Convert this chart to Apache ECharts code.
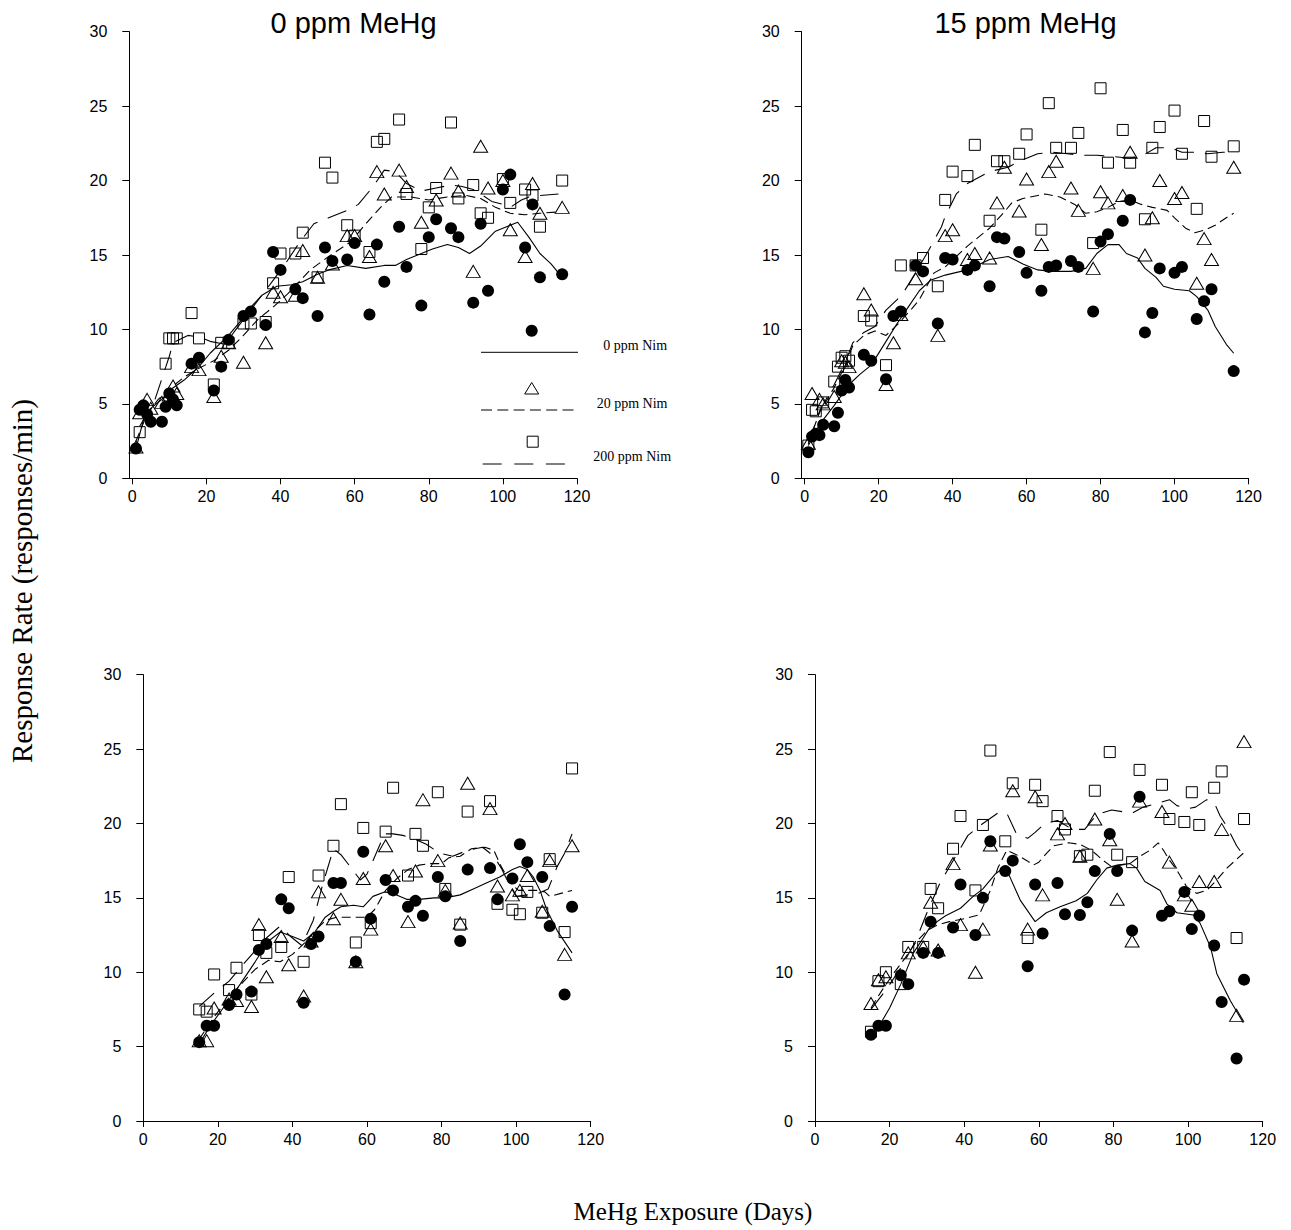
<!DOCTYPE html>
<html>
<head>
<meta charset="utf-8">
<script src="https://cdn.jsdelivr.net/npm/echarts@6/dist/echarts.min.js"></script>
<style>
  html, body { margin: 0; padding: 0; background: #fff; }
  #chart { width: 1291px; height: 1230px; }
</style>
</head>
<body>
<div id="chart"></div>
<script>
// Axis ticks shared by all four panels
const xTickValues = [0, 20, 40, 60, 80, 100, 120];
const panelTitles = ['0 ppm MeHg', '15 ppm MeHg'];
const legendLabels = ['0 ppm Nim', '20 ppm Nim', '200 ppm Nim'];

// ---- Panel 1 (top left) : [day, responses/min]
const p1Circles = [[1,2.0],[2,4.6],[3,4.9],[4,4.3],[5,3.8],[8,3.8],[9,4.8],[10,5.7],[11,5.3],[12,4.9],[16,7.7],[18,8.1],[22,5.9],[24,7.5],[26,9.3],[30,10.9],[32,11.2],[36,10.3],[38,15.2],[40,14.0],[44,12.7],[46,12.1],[50,10.9],[52,15.5],[54,14.6],[58,14.7],[60,15.8],[64,11.0],[66,15.7],[68,13.2],[72,16.9],[74,14.2],[78,11.6],[80,16.2],[82,17.4],[86,16.8],[88,16.2],[92,11.8],[94,17.1],[96,12.6],[100,19.4],[102,20.4],[106,15.5],[108,18.4],[110,13.5],[116,13.7]];
const p1Triangles = [[1,2.1],[2,4.4],[4,5.3],[5,4.7],[8,5.1],[10,5.6],[11,6.2],[12,5.7],[16,7.5],[18,7.3],[22,5.5],[24,8.2],[26,9.1],[30,7.8],[36,9.1],[38,12.5],[40,12.2],[44,12.3],[46,15.3],[50,13.5],[54,14.4],[58,16.3],[60,16.3],[64,14.9],[66,20.6],[68,19.1],[72,20.7],[74,19.6],[78,17.2],[82,18.7],[86,20.5],[88,19.3],[92,13.9],[94,22.3],[96,19.5],[100,20.0],[102,16.7],[106,14.9],[108,19.8],[110,17.8],[116,18.2]];
const p1Squares = [[2,3.1],[9,7.7],[10,9.4],[11,9.4],[12,9.4],[16,11.1],[18,9.4],[22,6.3],[24,9.1],[26,9.1],[30,10.4],[32,10.4],[36,10.5],[38,13.1],[40,15.1],[44,15.1],[46,16.5],[50,13.5],[52,21.2],[54,20.2],[58,17.0],[60,16.3],[64,15.2],[66,22.6],[68,22.8],[72,24.1],[74,19.1],[78,15.4],[80,18.2],[82,19.5],[86,23.9],[88,18.8],[92,19.7],[94,17.8],[96,17.5],[100,20.1],[102,18.5],[106,19.4],[108,19.0],[110,16.9],[116,20.0]];
const p1Line0 = [[1,2.0],[3,3.9],[5,4.7],[8,5.3],[10,5.9],[14,6.6],[18,7.5],[21,8.4],[26,9.6],[30,10.8],[32,11.5],[35,12.3],[39,12.9],[43,13.0],[46,13.2],[50,13.7],[53,14.0],[58,14.3],[63,14.1],[68,14.3],[71,14.3],[74,14.7],[78,15.1],[81,15.4],[85,15.7],[88,15.5],[91,15.1],[94,15.6],[98,16.6],[101,16.9],[104,17.2],[107,16.2],[110,15.1],[113,14.4],[115,13.8]];
const p1Line20 = [[1,2.5],[4,4.3],[7,5.3],[10,6.0],[14,6.8],[18,7.4],[22,7.9],[26,8.6],[30,9.6],[34,10.7],[38,11.5],[42,12.4],[45,13.2],[48,14.0],[53,14.9],[59,15.9],[63,17.1],[67,18.2],[70,18.9],[75,18.9],[80,18.7],[85,18.9],[90,19.0],[94,18.8],[98,18.2],[102,17.8],[106,17.7],[110,17.8],[115,17.9]];
const p1Line200 = [[2,3.5],[6,5.2],[8,6.7],[10,8.2],[11,9.1],[15,9.6],[18,9.5],[21,9.2],[25,9.0],[28,10.0],[31,11.0],[35,12.3],[38,13.3],[41,14.3],[45,15.8],[49,17.1],[53,17.5],[58,18.0],[61,18.4],[65,19.6],[68,20.7],[71,20.6],[74,19.8],[78,19.3],[82,19.5],[86,19.7],[89,19.6],[92,19.4],[94,19.1],[97,18.6],[100,18.4],[102,18.2],[105,18.7],[107,18.9],[110,19.0],[115,19.1]];

// ---- Panel 2 (top right)
const p2Circles = [[1,1.75],[2,2.8],[3,3.0],[4,2.9],[5,3.6],[8,3.5],[9,4.4],[10,5.9],[11,6.6],[12,6.1],[16,8.3],[18,7.9],[22,6.65],[24,10.9],[26,11.2],[30,14.3],[32,13.9],[36,10.4],[38,14.8],[40,14.7],[44,14.0],[46,14.3],[50,12.9],[52,16.2],[54,16.1],[58,15.2],[60,13.8],[64,12.6],[66,14.2],[68,14.3],[72,14.6],[74,14.2],[78,11.2],[80,15.9],[82,16.4],[86,17.3],[88,18.7],[92,9.8],[94,11.1],[96,14.1],[100,13.8],[102,14.2],[106,10.7],[108,11.9],[110,12.7],[116,7.2]];
const p2Triangles = [[1,2.35],[2,5.7],[4,5.3],[5,5.0],[8,5.5],[10,7.9],[11,7.8],[12,7.5],[16,12.4],[18,11.3],[22,6.3],[24,9.1],[26,11.0],[30,13.4],[36,9.6],[38,16.3],[40,16.7],[44,14.7],[46,15.1],[50,14.8],[52,18.5],[54,20.9],[58,17.95],[60,20.1],[64,15.7],[66,20.6],[68,21.3],[72,19.5],[74,18.0],[78,14.1],[80,19.25],[82,18.5],[86,19.0],[88,21.9],[92,15.0],[94,17.5],[96,20.0],[100,18.8],[102,19.2],[106,13.1],[108,16.1],[110,14.7],[116,20.9]];
const p2Squares = [[1,2.2],[2,4.6],[3,4.5],[5,5.1],[8,6.5],[9,7.5],[10,8.1],[11,8.2],[12,7.9],[16,10.9],[18,10.6],[22,7.6],[26,14.3],[30,14.3],[32,14.8],[36,12.9],[38,18.7],[40,20.6],[44,20.3],[46,22.4],[50,17.3],[52,21.3],[54,21.3],[58,21.8],[60,23.1],[64,16.7],[66,25.2],[68,22.2],[72,22.2],[74,23.2],[78,15.8],[80,26.2],[82,21.2],[86,23.4],[88,21.2],[92,17.4],[94,22.2],[96,23.6],[100,24.7],[102,21.8],[106,18.1],[108,24.0],[110,21.6],[116,22.3]];
const p2Line0 = [[1,2.2],[4,3.6],[8,4.9],[12,6.3],[15,7.0],[18,7.6],[22,9.2],[25,10.4],[28,11.5],[31,12.6],[34,13.3],[38,13.65],[44,14.0],[50,14.7],[55,14.9],[59,14.4],[63,14.0],[67,13.9],[72,13.9],[76,14.1],[79,15.1],[82,15.7],[85,15.7],[87,15.1],[90,14.8],[92,14.1],[95,13.5],[97,12.9],[100,12.7],[104,12.6],[106,12.2],[109,11.3],[111,10.2],[114,9.0],[116,8.4]];
const p2Line20 = [[1,2.4],[4,4.4],[8,6.1],[11,7.6],[13,8.9],[16,9.6],[19,9.9],[22,9.6],[25,10.3],[29,11.4],[31,12.0],[35,13.8],[38,14.2],[44,15.6],[47,16.2],[50,16.8],[54,17.9],[56,18.5],[59,18.8],[61,18.9],[65,19.1],[69,18.9],[73,18.4],[76,17.8],[79,17.9],[82,18.2],[85,18.6],[88,18.7],[91,18.4],[94,18.2],[98,18.0],[100,17.5],[103,16.8],[105.5,16.5],[108.5,16.7],[111,17.0],[114,17.5],[116,17.8]];
const p2Line200 = [[1,2.3],[4,4.5],[8,6.3],[11,7.8],[13,9.1],[16,9.8],[19,10.2],[22,11.3],[25,12.0],[27,12.6],[30,13.8],[33.5,15.3],[37,16.9],[38,17.6],[41,19.1],[44,19.8],[50,20.6],[55,20.9],[58,21.3],[61,21.6],[63,21.8],[67,21.9],[71,21.8],[75,21.7],[79,21.7],[84,21.6],[88,21.5],[91.5,21.7],[95,22.2],[99,22.2],[102,21.9],[106,21.9],[109,21.8],[113,21.9],[116,21.9]];

// ---- Panel 3 (bottom left)
const p3Circles = [[15,5.3],[17,6.4],[19,6.4],[23,7.8],[25,8.5],[29,8.7],[31,11.5],[33,11.9],[37,14.9],[39,14.3],[43,7.95],[45,11.9],[47,12.4],[51,16.0],[53,16.0],[57,10.7],[59,18.1],[61,13.6],[65,16.2],[67,15.5],[71,14.4],[73,14.8],[75,13.8],[79,16.4],[81,15.1],[85,12.1],[87,16.9],[93,17.0],[95,14.9],[99,16.3],[101,18.6],[103,17.4],[107,16.4],[109,13.1],[113,8.5],[115,14.4]];
const p3Triangles = [[15,5.4],[17,5.4],[19,7.6],[23,8.2],[25,8.1],[29,7.7],[31,13.2],[33,9.7],[37,12.4],[39,10.5],[43,8.4],[45,12.1],[47,15.4],[51,13.6],[53,14.9],[57,10.7],[59,16.3],[61,12.9],[65,18.5],[67,16.5],[71,13.4],[73,16.8],[75,21.6],[79,17.5],[81,15.5],[85,13.3],[87,22.7],[93,21.0],[95,15.8],[99,15.2],[101,15.5],[103,16.5],[107,14.1],[109,17.5],[113,11.2],[115,18.5]];
const p3Squares = [[15,7.5],[17,7.35],[19,9.85],[23,8.8],[25,10.3],[29,8.5],[31,12.5],[33,11.3],[37,11.7],[39,16.4],[43,10.7],[47,16.5],[51,18.5],[53,21.3],[57,12.0],[59,19.7],[61,13.3],[65,19.45],[67,22.4],[71,16.5],[73,19.3],[75,18.5],[79,22.1],[81,15.6],[85,13.2],[87,20.8],[93,21.5],[95,14.6],[99,14.2],[101,13.9],[103,15.4],[107,14.0],[109,17.6],[113,12.7],[115,23.7]];
const p3Line0 = [[15,5.2],[18,6.4],[22,7.8],[26,9.2],[30,10.7],[33.6,12.1],[36.7,12.7],[40,12.4],[43,12.1],[46,12.7],[48.8,13.7],[51,14.1],[53,14.4],[56.4,14.5],[59,14.4],[61.6,15.1],[64.7,15.4],[67,15.3],[70.6,14.9],[74,14.9],[78,15.0],[81,15.0],[85,15.2],[88.5,15.6],[92,16.0],[95.6,16.4],[99,16.9],[101,17.1],[103,16.9],[104.6,16.4],[106.4,15.5],[108.2,14.2],[111,12.8],[115,11.3]];
const p3Line20 = [[15,5.5],[19,7.0],[23,8.3],[27,9.4],[30,10.2],[33.6,10.8],[36.7,10.7],[40,11.2],[43,11.9],[46,12.8],[49,13.5],[52,13.7],[56,13.7],[60,13.7],[62,14.2],[65,15.5],[68,16.3],[71,16.9],[74,17.2],[77,17.3],[80,17.3],[82,17.7],[85,17.8],[88,18.3],[91.6,18.4],[94,18.2],[96,17.1],[98.5,16.0],[100.6,15.5],[103,15.5],[105.5,15.5],[107.7,15.4],[109,15.1],[112,15.3],[115,15.5]];
const p3Line200 = [[15,7.7],[19,8.6],[23,9.4],[26,10.3],[29.5,11.3],[33,12.3],[36.7,13.1],[39.5,12.4],[42.5,11.8],[45.6,13.5],[48,15.8],[51,18.3],[53,17.9],[55.5,17.1],[58.2,16.2],[60,16.6],[61.6,17.5],[64.7,19.3],[67,19.3],[69.6,19.2],[72.4,19.0],[75.9,18.6],[79.5,18.0],[83,17.8],[87,18.2],[91,18.4],[94,17.8],[96,17.0],[98,16.0],[100,15.1],[103,15.2],[106,15.3],[108.6,15.6],[111,17.1],[113,18.0],[115,19.3]];

// ---- Panel 4 (bottom right)
const p4Circles = [[15,5.8],[17,6.4],[19,6.4],[23,9.8],[25,9.2],[29,11.3],[31,13.4],[33,11.3],[37,13.0],[39,15.9],[43,12.5],[45,15.0],[47,18.8],[51,16.8],[53,17.5],[57,10.4],[59,15.9],[61,12.6],[65,16.0],[67,13.9],[71,13.85],[73,14.7],[75,16.8],[79,19.3],[81,16.8],[85,12.8],[87,21.8],[93,13.8],[95,14.1],[99,15.4],[101,12.9],[103,13.8],[107,11.8],[109,8.0],[113,4.2],[115,9.5]];
const p4Triangles = [[15,7.9],[17,9.5],[19,9.7],[25,11.3],[29,11.7],[31,14.7],[33,11.5],[37,17.3],[39,13.2],[43,10.0],[45,12.9],[47,18.55],[53,22.2],[57,12.9],[59,21.8],[61,15.2],[65,19.3],[67,20.0],[71,17.8],[75,20.3],[79,18.9],[81,14.9],[85,12.1],[87,21.5],[93,20.8],[95,17.4],[99,15.2],[101,14.5],[103,16.1],[107,16.1],[109,19.6],[113,7.1],[115,25.5]];
const p4Squares = [[15,6.0],[17,9.4],[19,10.0],[23,9.2],[25,11.7],[29,11.7],[31,15.6],[33,14.3],[37,18.3],[39,20.5],[43,15.5],[45,19.9],[47,24.9],[51,18.8],[53,22.7],[57,12.3],[59,22.6],[61,21.5],[65,20.5],[67,19.6],[71,17.8],[73,17.9],[75,22.2],[79,24.8],[81,17.9],[85,17.4],[87,23.6],[93,22.6],[95,20.3],[99,20.1],[101,22.1],[103,19.9],[107,22.4],[109,23.5],[113,12.3],[115,20.3]];
const p4Line0 = [[15,5.8],[17,6.3],[20,7.6],[23,9.2],[26.4,11.3],[29,12.3],[31,13.1],[35,13.8],[39,14.3],[42.4,15.1],[45,15.6],[48.3,16.6],[51,17.1],[55,14.85],[59,13.4],[62,14.0],[65.7,14.4],[70,14.8],[73,15.3],[75.5,16.2],[78.2,17.0],[81,17.2],[84.4,17.3],[86.2,17.0],[88.4,16.1],[92.5,15.5],[94.3,14.6],[97,14.0],[101.4,13.85],[103.2,13.3],[106,11.7],[107.7,9.9],[111.3,8.1],[114.8,6.6]];
const p4Line20 = [[15,7.6],[18,8.8],[21,9.9],[24,10.9],[27,12.0],[30,12.8],[33,13.2],[36,13.4],[40,13.6],[44,13.85],[47,15.5],[49,17.0],[51.4,18.2],[54,17.9],[56.8,17.5],[58.5,17.2],[60,17.4],[62.1,18.0],[64,18.5],[68,18.7],[71,18.6],[74.1,18.2],[75.5,17.9],[77.3,17.5],[79.5,17.1],[81.7,17.2],[84.4,17.3],[87.1,17.8],[89.8,18.2],[92,18.7],[93.4,18.2],[95.1,17.5],[96.9,16.9],[99.6,15.75],[102.3,15.3],[105,15.5],[107.7,16.2],[110.4,17.0],[114.8,18.0]];
const p4Line200 = [[15,7.5],[19,8.8],[23,10.3],[27,12.1],[30,14.0],[33.5,16.0],[37,17.5],[41,19.2],[45,20.0],[49,20.7],[51.4,20.7],[54,19.3],[57,19.0],[59,19.4],[61.6,20.0],[65,20.2],[69,19.6],[72.3,19.6],[75.5,20.6],[79.5,20.9],[85,20.7],[88,21.1],[91,21.3],[95,21.6],[97,21.2],[100,21.0],[102,21.1],[105,21.6],[107,21.4],[108.6,20.5],[110.4,19.8],[113,18.5],[115,17.8]];

const panels = [
  { circles: p1Circles, triangles: p1Triangles, squares: p1Squares, line0: p1Line0, line20: p1Line20, line200: p1Line200 },
  { circles: p2Circles, triangles: p2Triangles, squares: p2Squares, line0: p2Line0, line20: p2Line20, line200: p2Line200 },
  { circles: p3Circles, triangles: p3Triangles, squares: p3Squares, line0: p3Line0, line20: p3Line20, line200: p3Line200 },
  { circles: p4Circles, triangles: p4Triangles, squares: p4Squares, line0: p4Line0, line20: p4Line20, line200: p4Line200 }
];

// plot boxes (pixels) for the 2x2 layout
const grids = [
  { left: 129.3, top: 31.7, width: 447.7, height: 446.6 },
  { left: 801.7, top: 31.7, width: 446.8, height: 446.6 },
  { left: 143.3, top: 674.7, width: 447.4, height: 446.3 },
  { left: 815, top: 674.7, width: 447.7, height: 446.3 }
];

const SANS = '"Liberation Sans", Arial, Helvetica, sans-serif';
const SERIF = '"Liberation Serif", "Times New Roman", Times, serif';
const SHORT_DASH = [9, 5];
const LONG_DASH = [20, 11];

const xAxes = grids.map((g, i) => {
  const top = i < 2;
  const ax = {
    gridIndex: i, type: 'value', max: 120,
    axisLine: { onZero: false, lineStyle: { color: '#000', width: 1 } },
    axisTick: { length: 6, lineStyle: { color: '#000', width: 1 } },
    axisLabel: { color: '#000', fontSize: 16, fontFamily: SANS, margin: 10 },
    splitLine: { show: false }
  };
  if (top) {
    ax.min = -0.8;
    ax.axisTick.customValues = xTickValues;
    ax.axisLabel.customValues = xTickValues;
  } else {
    ax.min = 0;
    ax.interval = 20;
  }
  return ax;
});

const yAxes = grids.map((g, i) => ({
  gridIndex: i, type: 'value', min: 0, max: 30, interval: 5,
  axisLine: { show: true, onZero: false, lineStyle: { color: '#000', width: 1 } },
  axisTick: { show: true, length: 7, lineStyle: { color: '#000', width: 1 } },
  axisLabel: { color: '#000', fontSize: 16, fontFamily: SANS, margin: 22 },
  splitLine: { show: false }
}));

const series = [];
panels.forEach((p, i) => {
  const base = { xAxisIndex: i, yAxisIndex: i, silent: true, animation: false };
  series.push(Object.assign({}, base, {
    type: 'line', data: p.line0, symbol: 'none', z: 3,
    lineStyle: { color: '#000', width: 1.1, type: 'solid', opacity: 1 }
  }));
  series.push(Object.assign({}, base, {
    type: 'line', data: p.line20, symbol: 'none', z: 3,
    lineStyle: { color: '#000', width: 1.1, type: SHORT_DASH, opacity: 1 }
  }));
  series.push(Object.assign({}, base, {
    type: 'line', data: p.line200, symbol: 'none', z: 3,
    lineStyle: { color: '#000', width: 1.1, type: LONG_DASH, opacity: 1 }
  }));
  series.push(Object.assign({}, base, {
    type: 'scatter', data: p.squares, symbol: 'rect', symbolSize: 11, z: 4,
    itemStyle: { color: 'rgba(255,255,255,0)', borderColor: '#000', borderWidth: 1, opacity: 1 }
  }));
  series.push(Object.assign({}, base, {
    type: 'scatter', data: p.triangles, symbol: 'triangle', symbolSize: [14, 12], z: 4,
    itemStyle: { color: 'rgba(255,255,255,0)', borderColor: '#000', borderWidth: 1, opacity: 1 }
  }));
  series.push(Object.assign({}, base, {
    type: 'scatter', data: p.circles, symbol: 'circle', symbolSize: 12, z: 5,
    itemStyle: { color: '#000', opacity: 1 }
  }));
});

function label(text, x, y, font, extra) {
  return Object.assign({
    type: 'text', x: x, y: y, silent: true,
    style: { text: text, font: font, fill: '#000', align: 'center', verticalAlign: 'middle',
             textAlign: 'center', textVerticalAlign: 'middle' }
  }, extra || {});
}
function leftLabel(text, x, y) {
  return {
    type: 'text', x: x, y: y, silent: true,
    style: { text: text, font: '14px ' + SERIF, fill: '#000', align: 'left', verticalAlign: 'middle',
             textAlign: 'left', textVerticalAlign: 'middle' }
  };
}

const graphics = [
  // panel titles
  label(panelTitles[0], 353.5, 23, '29px ' + SANS),
  label(panelTitles[1], 1025.5, 23, '29px ' + SANS),
  // shared axis titles
  label('Response Rate (responses/min)', 22, 581, '29px ' + SERIF, { rotation: Math.PI / 2 }),
  label('MeHg Exposure (Days)', 693, 1211, '25px ' + SERIF),
  // key inside the first panel
  { type: 'circle', silent: true, shape: { cx: 531.7, cy: 330.7, r: 6 }, style: { fill: '#000' } },
  { type: 'line', silent: true, shape: { x1: 481, y1: 352.3, x2: 578, y2: 352.3 }, style: { stroke: '#000', lineWidth: 1 } },
  leftLabel(legendLabels[0], 603.3, 345),
  { type: 'polygon', silent: true, shape: { points: [[531.7, 382.5], [538.7, 394], [524.7, 394]] },
    style: { fill: 'none', stroke: '#000', lineWidth: 1 } },
  { type: 'line', silent: true, shape: { x1: 481, y1: 410, x2: 578, y2: 410 },
    style: { stroke: '#000', lineWidth: 1, lineDash: [11, 5.3] } },
  leftLabel(legendLabels[1], 596.7, 403.3),
  { type: 'rect', silent: true, shape: { x: 527.2, y: 436.2, width: 11, height: 11 },
    style: { fill: 'none', stroke: '#000', lineWidth: 1 } },
  { type: 'line', silent: true, shape: { x1: 482.7, y1: 464, x2: 570, y2: 464 },
    style: { stroke: '#000', lineWidth: 1, lineDash: [19, 12.6] } },
  leftLabel(legendLabels[2], 593.3, 456.7)
];

const chart = echarts.init(document.getElementById('chart'), null, { renderer: 'svg' });
chart.setOption({
  animation: false,
  backgroundColor: '#fff',
  grid: grids,
  xAxis: xAxes,
  yAxis: yAxes,
  series: series,
  graphic: graphics
});
</script>
</body>
</html>
